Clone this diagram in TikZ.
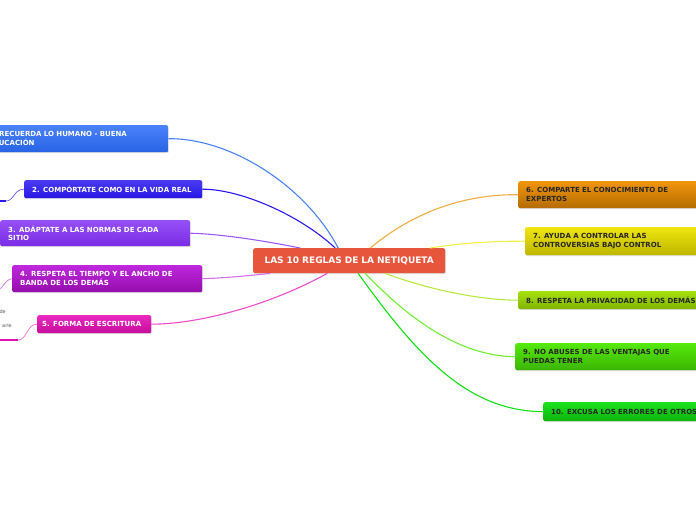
\documentclass[tikz,border=0pt]{standalone}
\usepackage{fontspec}
\setmainfont{DejaVu Sans}
\usepackage{xcolor}
\usetikzlibrary{shadows}

\definecolor{rootred}{HTML}{E8553D}
\definecolor{c1}{HTML}{2A6CF8}
\definecolor{c2}{HTML}{2A18F0}
\definecolor{c3}{HTML}{8430F8}
\definecolor{c4}{HTML}{B810D8}
\definecolor{c5}{HTML}{E810B8}
\definecolor{c6}{HTML}{F09000}
\definecolor{c7}{HTML}{EEE400}
\definecolor{c8}{HTML}{A0E000}
\definecolor{c9}{HTML}{4CE800}
\definecolor{c10}{HTML}{10E010}
\definecolor{l7}{HTML}{F4F040}

\begin{document}
\begin{tikzpicture}[x=1pt, y=-1pt,
root/.style={fill=rootred, rounded corners=2pt, anchor=north west, text=white, align=center, text width=176pt, inner xsep=8pt, minimum height=25pt, font=\bfseries\fontsize{9}{10}\selectfont, drop shadow={shadow xshift=0.8pt, shadow yshift=-1pt, opacity=0.25}},
branch/.style={rounded corners=2pt, anchor=north west, align=left, inner xsep=8pt, inner ysep=0pt, font=\bfseries\fontsize{7}{8.6}\selectfont, drop shadow={shadow xshift=0.8pt, shadow yshift=-1pt, opacity=0.25}},
lbranch/.style={branch, text=white},
rbranch/.style={branch, text=black!85},
link/.style={line width=1.1pt},
sub/.style={line width=2.2pt},
note/.style={anchor=east, inner sep=0pt, text=black!65, font=\fontsize{5}{6}\selectfont}
]
\useasboundingbox (0,0) rectangle (696,520);

\node[root] (root) at (253,248) {LAS 10 REGLAS DE LA NETIQUETA};

\node[lbranch, top color=c1!85!white, bottom color=c1!92!black, text width=172pt, minimum height=27pt] (b1) at (-20,125) {1. RECUERDA LO HUMANO - BUENA\\EDUCACIÓN};
\node[lbranch, top color=c2!85!white, bottom color=c2!95!black, text width=162pt, minimum height=18pt] (b2) at (24,180) {2. COMPÓRTATE COMO EN LA VIDA REAL};
\node[lbranch, top color=c3!85!white, bottom color=c3!92!black, text width=174pt, minimum height=26pt] (b3) at (0,220) {3. ADÁPTATE A LAS NORMAS DE CADA\\SITIO};
\node[lbranch, top color=c4!90!white, bottom color=c4!80!black, text width=174pt, minimum height=27pt] (b4) at (12,265) {4. RESPETA EL TIEMPO Y EL ANCHO DE\\BANDA DE LOS DEMÁS};
\node[lbranch, top color=c5!90!white, bottom color=c5!85!black, text width=104pt, inner xsep=5pt, minimum height=18pt] (b5) at (37,315) {5. FORMA DE ESCRITURA};

\node[rbranch, top color=c6!95!white, bottom color=c6!75!black, text width=190pt, minimum height=27pt] (b6) at (518,181) {6. COMPARTE EL CONOCIMIENTO DE\\EXPERTOS};
\node[rbranch, top color=c7!95!white, bottom color=c7!80!black, text width=190pt, minimum height=28pt] (b7) at (525,227) {7. AYUDA A CONTROLAR LAS\\CONTROVERSIAS BAJO CONTROL};
\node[rbranch, top color=c8!95!white, bottom color=c8!80!black, text width=190pt, minimum height=18pt] (b8) at (518,291) {8. RESPETA LA PRIVACIDAD DE LOS DEMÁS};
\node[rbranch, top color=c9!95!white, bottom color=c9!78!black, text width=190pt, minimum height=27pt] (b9) at (515,343) {9. NO ABUSES DE LAS VENTAJAS QUE\\PUEDAS TENER};
\node[rbranch, top color=c10!95!white, bottom color=c10!80!black, text width=160pt, minimum height=19pt] (b10) at (543,402) {10. EXCUSA LOS ERRORES DE OTROS};

\draw[link, c1!85!white] ([xshift=-11pt]root.north) .. controls (305,185) and (230,138) .. (b1.east);
\draw[link, c2] ([xshift=-14pt]root.north) .. controls (300,215) and (240,189) .. (b2.east);
\draw[link, c3!80!white] ([xshift=-49pt]root.north) .. controls (260,240) and (220,234) .. (b3.east);
\draw[link, c4!60!white] ([xshift=-79pt]root.south) .. controls (245,276) and (225,278) .. (b4.east);
\draw[link, c5!75!white] ([xshift=-22pt]root.south) .. controls (270,305) and (200,324) .. (b5.east);
\draw[link, c6!75!white] ([xshift=21pt]root.north) .. controls (410,215) and (460,194) .. (b6.west);
\draw[link, l7] ([xshift=81pt]root.north) .. controls (460,243) and (495,241) .. (b7.west);
\draw[link, c8!75!white] ([xshift=36pt]root.south) .. controls (430,290) and (480,300) .. (b8.west);
\draw[link, c9!80!white] ([xshift=16pt]root.south) .. controls (410,320) and (460,356) .. (b9.west);
\draw[link, c10] ([xshift=9pt]root.south) .. controls (420,360) and (470,411) .. (b10.west);

\coordinate (s2) at (6,201);
\coordinate (s2e) at (-2,201);
\coordinate (s4e) at (-2,290);
\coordinate (s5) at (18,340);
\coordinate (s5e) at (-2,340);
\draw[link, c2!70!white, line width=0.7pt] (b2.west) .. controls (14,189) and (14,201) .. (s2);
\draw[sub, c2] (s2) -- (s2e);
\draw[link, c4!60!white, line width=0.7pt] (b4.west) .. controls (4,280) and (4,288) .. (s4e);
\draw[link, c5!60!white, line width=0.7pt] (b5.west) .. controls (27,324) and (27,340) .. (s5);
\draw[sub, c5] (s5) -- (s5e);

\node[note] (n1) at (6,312) {de};
\node[note] (n2) at (12,326) {arle};
\end{tikzpicture}
\end{document}
